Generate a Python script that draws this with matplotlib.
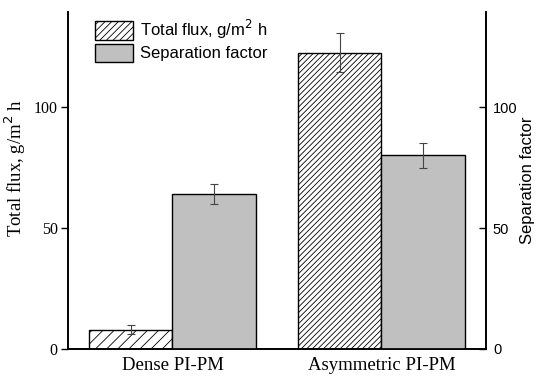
import numpy as np
import matplotlib.pyplot as plt
from matplotlib.patches import Patch

# Data ====================================================================== #
categories = ['Dense PI-PM', 'Asymmetric PI-PM']
flux = [8, 122.5]            # g/m2 h
flux_err = [2, 8]
sep_factor = [64, 80]
sep_err = [4, 5]
flux_hatches = ['///', '//////']
yticks = [0, 50, 100]

plt.rcParams['hatch.linewidth'] = 0.6
plt.rcParams['font.family'] = ['Liberation Serif', 'DejaVu Serif']

# Figure -------------------------------------------------------------------- #
fig = plt.figure(figsize=(5.5, 3.83), dpi=100)
ax = fig.add_axes([0.1236, 0.0888, 0.76, 0.88])
ax2 = ax.twinx()

x = np.arange(len(categories))
w = 0.4
err_kw = dict(ecolor='#444444', elinewidth=0.8, capsize=3, capthick=0.8)

for i in range(len(categories)):
    ax.bar(x[i] - w / 2, flux[i], w, yerr=flux_err[i], color='white',
           edgecolor='black', linewidth=1.0, hatch=flux_hatches[i],
           error_kw=err_kw, zorder=2)
ax2.bar(x + w / 2, sep_factor, w, yerr=sep_err, color='#c0c0c0',
        edgecolor='black', linewidth=1.0, error_kw=err_kw, zorder=2)

ylim = (0, 139.3)
ax.set_ylim(*ylim)
ax2.set_ylim(*ylim)
ax.set_xlim(-0.5, 1.5)

# ticks --------------------------------------------------------------------- #
ax.tick_params(axis='x', length=0, pad=6, labelsize=13.5)
ax.tick_params(axis='y', direction='out', length=5, width=1, pad=2.5,
               labelsize=11.5)
ax2.tick_params(axis='y', direction='in', length=5, width=1, pad=5)
ax.set_xticks(x)
ax.set_xticklabels(categories)
ax.set_yticks(yticks)
ax.set_yticklabels([str(t) for t in yticks])
ax2.set_yticks(yticks)
ax2.set_yticklabels([str(t) for t in yticks], family='Liberation Sans',
                    fontsize=10.5)

ax.set_ylabel('Total flux, g/m$^2$ h', fontsize=13.5)
ax.yaxis.set_label_coords(-0.096, 0.537)
ax2.set_ylabel('Separation factor', family='Liberation Sans', fontsize=12,
               labelpad=2)

for a in (ax, ax2):
    a.spines['top'].set_visible(False)
    for s in ('left', 'right', 'bottom'):
        a.spines[s].set_linewidth(1.2)

# Legend -------------------------------------------------------------------- #
handles = [Patch(facecolor='white', edgecolor='black', hatch='/////'),
           Patch(facecolor='#c0c0c0', edgecolor='black')]
leg = ax.legend(handles, ['Total flux, g/m$^2$ h', 'Separation factor'],
                loc='upper left', bbox_to_anchor=(0.04, 1.012), frameon=False,
                prop={'family': 'Liberation Sans', 'size': 12},
                handlelength=2.3, handleheight=1.3, handletextpad=0.4,
                labelspacing=0.15, borderaxespad=0.2)

fig.savefig('out.png', dpi=100)
